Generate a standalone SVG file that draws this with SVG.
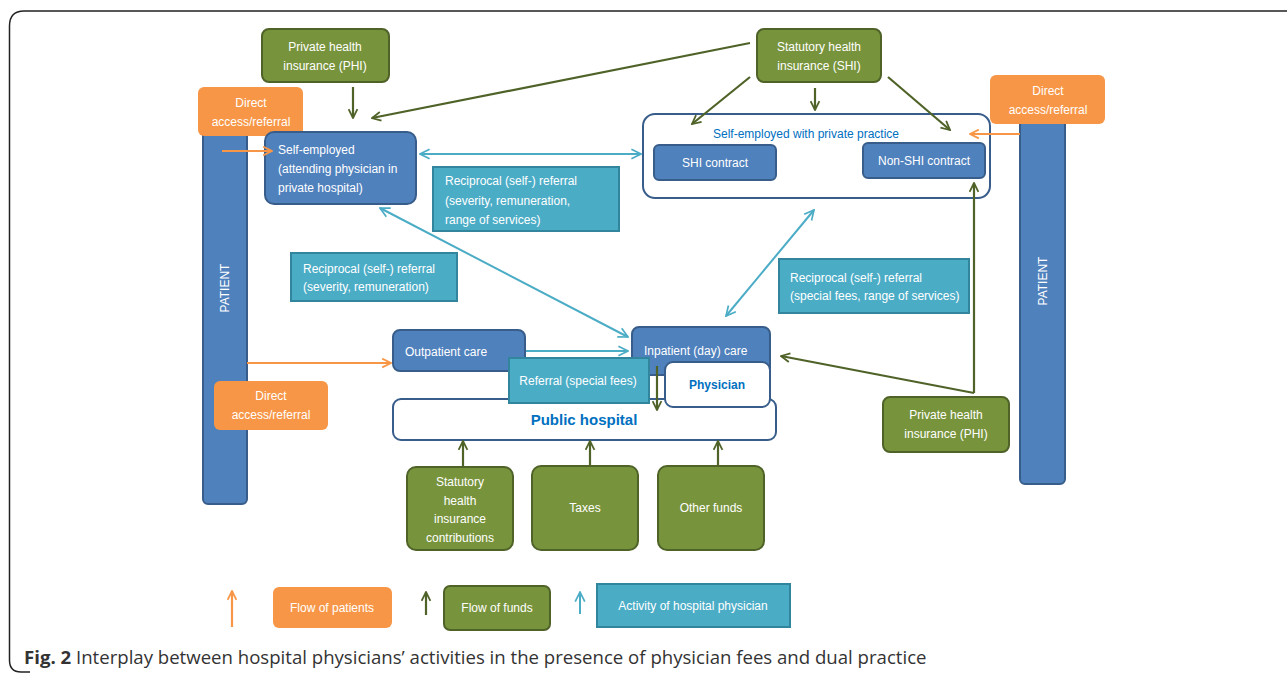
<svg xmlns="http://www.w3.org/2000/svg" width="1287" height="674" viewBox="0 0 1287 674">
<style>
text{font-family:"Liberation Sans",Arial,sans-serif;font-size:12px;fill:#fff}
.blue{fill:#4f81bd;stroke:#385d8a;stroke-width:2}
.green{fill:#77933c;stroke:#4f6228;stroke-width:2}
.orange{fill:#f79646;stroke:none}
.teal{fill:#4bacc6;stroke:#31859c;stroke-width:2}
.cont{fill:#fff;stroke:#385d8a;stroke-width:2}
.c{text-anchor:middle}
.bt{fill:#0070c0}
.ag{stroke:#4f6228;stroke-width:2.2;fill:none;marker-end:url(#mg)}
.at{stroke:#4bacc6;stroke-width:2;fill:none;marker-end:url(#mt)}
.at2{stroke:#4bacc6;stroke-width:2;fill:none;marker-end:url(#mt);marker-start:url(#mt)}
.ao{stroke:#f79646;stroke-width:2.2;fill:none;marker-end:url(#mo)}
</style>
<defs>
<marker id="mg" viewBox="0 0 10 10" refX="9" refY="5" markerWidth="5" markerHeight="5" orient="auto-start-reverse" markerUnits="strokeWidth"><path d="M1,1 L9,5 L1,9" fill="none" stroke="#4f6228" stroke-width="1.6"/></marker>
<marker id="mt" viewBox="0 0 10 10" refX="9" refY="5" markerWidth="6" markerHeight="6" orient="auto-start-reverse" markerUnits="strokeWidth"><path d="M1,1 L9,5 L1,9" fill="none" stroke="#4bacc6" stroke-width="1.4"/></marker>
<marker id="mo" viewBox="0 0 10 10" refX="9" refY="5" markerWidth="5" markerHeight="5" orient="auto-start-reverse" markerUnits="strokeWidth"><path d="M1,1 L9,5 L1,9" fill="none" stroke="#f79646" stroke-width="1.6"/></marker>
</defs>
<rect width="1287" height="674" fill="#fff"/>
<path d="M1290,11 H24 Q9.5,11 9.5,26 V660 Q9.5,672 21,672 H30" fill="none" stroke="#222" stroke-width="1.5"/>

<g id="patient-left"><rect class="blue" x="203" y="120" width="44" height="384" rx="5"/><text class="c" transform="translate(229,288) rotate(-90)">PATIENT</text></g>
<g id="patient-right"><rect class="blue" x="1020" y="110" width="45" height="374" rx="5"/><text class="c" transform="translate(1047,281) rotate(-90)">PATIENT</text></g>

<g id="direct-tl"><rect class="orange" x="198" y="87" width="105" height="49" rx="6"/><text class="c" x="251" y="107">Direct</text><text class="c" x="251" y="126">access/referral</text></g>
<g id="direct-tr"><rect class="orange" x="990" y="75" width="115" height="49" rx="6"/><text class="c" x="1048" y="95">Direct</text><text class="c" x="1048" y="114">access/referral</text></g>
<g id="direct-bl"><rect class="orange" x="214" y="381" width="114" height="49" rx="6"/><text class="c" x="271" y="400">Direct</text><text class="c" x="271" y="419">access/referral</text></g>

<g id="phi-top"><rect class="green" x="262" y="29" width="127" height="53" rx="7"/><text class="c" x="325" y="51">Private health</text><text class="c" x="325" y="70">insurance (PHI)</text></g>
<g id="shi"><rect class="green" x="757" y="29" width="124" height="53" rx="7"/><text class="c" x="819" y="51">Statutory health</text><text class="c" x="819" y="70">insurance (SHI)</text></g>

<g id="self-employed"><rect class="blue" x="265" y="132" width="151" height="72" rx="9"/><text x="278" y="154">Self-employed</text><text x="278" y="173">(attending physician in</text><text x="278" y="192">private hospital)</text></g>

<g id="reciprocal-1"><rect class="teal" x="433" y="167" width="186" height="64"/><text x="445" y="185">Reciprocal (self-) referral</text><text x="445" y="205">(severity, remuneration,</text><text x="445" y="224">range of services)</text></g>

<g id="private-practice"><rect class="cont" x="643" y="114" width="347" height="84" rx="12"/><text class="c bt" x="806" y="138">Self-employed with private practice</text>
<rect class="blue" x="654" y="145" width="122" height="35" rx="5"/><text class="c" x="715" y="167">SHI contract</text>
<rect class="blue" x="863" y="143" width="122" height="35" rx="5"/><text class="c" x="924" y="165">Non-SHI contract</text></g>

<g id="reciprocal-2"><rect class="teal" x="291" y="253" width="166" height="48"/><text x="303" y="273">Reciprocal (self-) referral</text><text x="303" y="291">(severity, remuneration)</text></g>
<g id="reciprocal-3"><rect class="teal" x="779" y="259" width="190" height="54"/><text x="790" y="282">Reciprocal (self-) referral</text><text x="790" y="300">(special fees, range of services)</text></g>

<g id="public-hospital"><rect class="cont" x="393" y="399" width="383" height="41" rx="8"/><text class="c bt" x="584" y="425" style="font-size:15px;font-weight:bold">Public hospital</text></g>
<g id="outpatient"><rect class="blue" x="393" y="330" width="132" height="41" rx="7"/><text x="405" y="356">Outpatient care</text></g>
<g id="inpatient"><rect class="blue" x="632" y="327" width="138" height="48" rx="7"/><text x="644" y="355">Inpatient (day) care</text></g>
<g id="physician"><rect class="cont" x="665" y="362" width="105" height="45" rx="8"/><text class="c bt" x="717" y="389" style="font-weight:bold">Physician</text></g>
<g id="referral"><rect class="teal" x="509" y="358" width="140" height="45"/><text class="c" x="578" y="385">Referral (special fees)</text></g>

<g id="phi-bottom"><rect class="green" x="883" y="397" width="126" height="55" rx="7"/><text class="c" x="946" y="419">Private health</text><text class="c" x="946" y="438">insurance (PHI)</text></g>

<g id="shi-contrib"><rect class="green" x="407" y="467" width="106" height="83" rx="9"/><text class="c" x="460" y="486">Statutory</text><text class="c" x="460" y="505">health</text><text class="c" x="460" y="523">insurance</text><text class="c" x="460" y="542">contributions</text></g>
<g id="taxes"><rect class="green" x="532" y="466" width="106" height="84" rx="9"/><text class="c" x="585" y="512">Taxes</text></g>
<g id="other-funds"><rect class="green" x="658" y="466" width="106" height="84" rx="9"/><text class="c" x="711" y="512">Other funds</text></g>

<g id="connectors">
<line class="ag" x1="353" y1="87" x2="353" y2="118"/>
<line class="ag" x1="750" y1="43" x2="372" y2="118"/>
<line class="ag" x1="750" y1="77" x2="692" y2="124"/>
<line class="ag" x1="815" y1="88" x2="815" y2="110"/>
<line class="ag" x1="888" y1="77" x2="950" y2="130"/>
<line class="ao" x1="1020" y1="134" x2="970" y2="134"/>
<line class="ao" x1="222" y1="151" x2="272" y2="151"/>
<line class="ao" x1="247" y1="363" x2="391" y2="363"/>
<line class="at2" x1="420" y1="154" x2="641" y2="154"/>
<line class="at2" x1="380" y1="208" x2="628" y2="337"/>
<line class="at" x1="526" y1="351" x2="628" y2="351"/>
<line class="at2" x1="726" y1="316" x2="814" y2="210"/>
<polyline class="ag" points="974,393 974,183"/>
<line class="ag" x1="974" y1="393" x2="781" y2="356"/>
<line class="ag" x1="657" y1="366" x2="657" y2="410"/>
<line class="ag" x1="463" y1="466" x2="463" y2="441"/>
<line class="ag" x1="590" y1="465" x2="590" y2="441"/>
<line class="ag" x1="718" y1="465" x2="718" y2="441"/>
</g>

<g id="legend">
<line class="ao" x1="232" y1="627" x2="232" y2="591"/>
<rect class="orange" x="273" y="587" width="119" height="41" rx="6"/><text class="c" x="332" y="612">Flow of patients</text>
<line class="ag" x1="426" y1="615" x2="426" y2="592"/>
<rect class="green" x="444" y="586" width="106" height="44" rx="6"/><text class="c" x="497" y="612">Flow of funds</text>
<line class="at" x1="580" y1="614" x2="580" y2="592"/>
<rect class="teal" x="597" y="584" width="193" height="43"/><text class="c" x="693" y="610">Activity of hospital physician</text>
</g>

<text x="24" y="664" style="font-family:'Open Sans','Noto Sans',sans-serif;font-size:18.6px;fill:#333"><tspan font-weight="bold">Fig. 2</tspan> Interplay between hospital physicians’ activities in the presence of physician fees and dual practice</text>
</svg>
